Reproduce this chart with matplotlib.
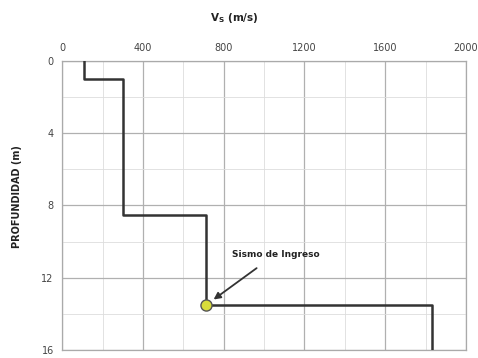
import matplotlib
matplotlib.use('Agg')
import matplotlib.pyplot as plt

# Perfil de velocidad de onda de corte
vs = [110, 110, 300, 300, 710, 710, 1830, 1830]
prof = [0, 1.0, 1.0, 8.5, 8.5, 13.5, 13.5, 16]
x_ticks = [0, 400, 800, 1200, 1600, 2000]
y_ticks = [0, 4, 8, 12, 16]
sismo_vs = 710
sismo_prof = 13.5

fig = plt.figure(figsize=(4.78, 3.58), dpi=100)
ax = fig.add_axes([0.130, 0.022, 0.845, 0.808])

ax.set_xlim(0, 2000)
ax.set_ylim(16, 0)
ax.xaxis.tick_top()
ax.set_xticks(x_ticks)
ax.set_yticks(y_ticks)
ax.set_xticks(range(0, 2001, 200), minor=True)
ax.set_yticks(range(0, 17, 2), minor=True)
ax.tick_params(which='both', length=0, labelsize=7, colors='#444444', pad=6)

ax.grid(which='major', color='#b0b0b0', lw=0.9)
ax.grid(which='minor', color='#dddddd', lw=0.6)
for s in ax.spines.values():
    s.set_color('#aaaaaa')
    s.set_linewidth(0.9)

ax.plot(vs, prof, color='#333333', lw=1.8, zorder=3)
ax.plot(sismo_vs, sismo_prof, 'o', ms=8, mfc='#d8dc3a', mec='#555555', mew=1, zorder=4)

ax.annotate('Sismo de Ingreso', xy=(sismo_vs + 40, sismo_prof - 0.3),
            xytext=(840, 10.7), fontsize=6.5, fontweight='bold', color='#222222',
            ha='left', va='center',
            arrowprops=dict(arrowstyle='-|>', color='#333333', lw=1.3,
                            shrinkA=8, shrinkB=0, mutation_scale=10))

fig.text(0.49, 0.95, r'V$_\mathbf{S}$ (m/s)', ha='center', va='center',
         fontsize=7.5, fontweight='bold', color='#222222')
fig.text(0.035, 0.45, 'PROFUNDIDAD (m)', rotation=90, ha='center', va='center',
         fontsize=7, fontweight='bold', color='#222222')

plt.savefig('out.png', dpi=100, facecolor='white')
plt.close()
